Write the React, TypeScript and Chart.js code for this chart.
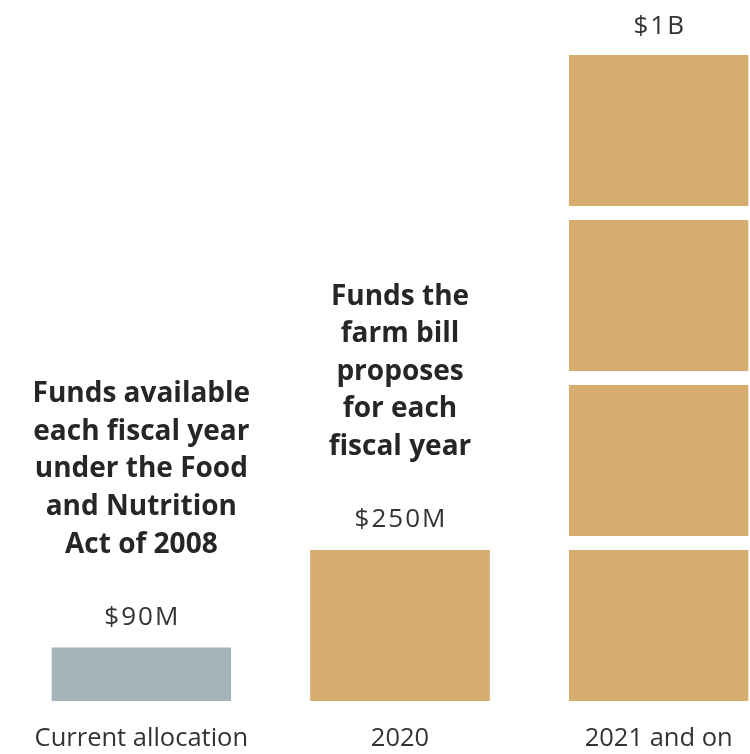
import React, { useEffect, useRef } from "react";
import { Chart, registerables } from "chart.js";

Chart.register(...registerables);

const categories = ["Current allocation", "2020", "2021 and on"];
// current allocation (millions of dollars)
const currentValues = [90, null, null];
// proposed funding shown as stacked $250M blocks
const block1 = [null, 250, 250];
const block2 = [null, null, 250];
const block3 = [null, null, 250];
const block4 = [null, null, 250];
const valueLabels = ["$90M", "$250M", "$1B"];
const notes: string[][] = [
  ["Funds available", "each fiscal year", "under the Food", "and Nutrition", "Act of 2008"],
  ["Funds the", "farm bill", "proposes", "for each", "fiscal year"],
  [],
];

const GOLD = "#D6AD6E";
const GRAY = "#A5B3BA";
const FONT = "'Open Sans', Lato, sans-serif";
const GAP = 14;

const labelPlugin = {
  id: "labels",
  afterDatasetsDraw(chart: any) {
    const { ctx, scales } = chart;
    const x = scales.x;
    const y = scales.y;
    ctx.save();
    ctx.textAlign = "center";
    ctx.textBaseline = "middle";
    categories.forEach((_, i) => {
      let total = 0;
      chart.data.datasets.forEach((ds: any) => {
        const v = ds.data[i];
        if (typeof v === "number") total += v;
      });
      const border = i === 0 ? 6 : GAP;
      const fillTop = y.getPixelForValue(total) + border;
      const cx = x.getPixelForValue(i);
      const labelY = fillTop - (i === 2 ? 28 : 30);
      ctx.fillStyle = "#333333";
      ctx.font = `400 26px ${FONT}`;
      try {
        (ctx as any).letterSpacing = "2px";
      } catch (e) {}
      ctx.fillText(valueLabels[i], cx + 1, labelY);
      try {
        (ctx as any).letterSpacing = "0px";
      } catch (e) {}
      const lines = notes[i];
      ctx.fillStyle = "#262626";
      ctx.font = `700 28px ${FONT}`;
      const lh = 37.6;
      lines.forEach((ln, k) => {
        const ly = labelY - 73 - (lines.length - 1 - k) * lh;
        ctx.fillText(ln, cx, ly);
      });
    });
    ctx.restore();
  },
};

export default function App() {
  const ref = useRef<HTMLCanvasElement | null>(null);
  useEffect(() => {
    if (!ref.current) return;
    const mk = (label: string, data: any[], color: string, top: number) => ({
      label,
      data,
      backgroundColor: color,
      borderColor: "#ffffff",
      borderWidth: { top, bottom: 0, left: 0, right: 0 },
      borderSkipped: false,
      barPercentage: 0.695,
      categoryPercentage: 1,
    });
    const chart = new Chart(ref.current, {
      type: "bar",
      data: {
        labels: categories,
        datasets: [
          mk("Current", currentValues, GRAY, 6),
          mk("Block 1", block1, GOLD, GAP),
          mk("Block 2", block2, GOLD, GAP),
          mk("Block 3", block3, GOLD, GAP),
          mk("Block 4", block4, GOLD, GAP),
        ],
      },
      options: {
        responsive: false,
        animation: false,
        devicePixelRatio: 1,
        layout: { padding: { left: 12, right: 2, top: 8, bottom: 0 } },
        plugins: {
          legend: { display: false },
          tooltip: { enabled: false },
        },
        scales: {
          x: {
            stacked: true,
            grid: { display: false, drawTicks: false },
            border: { display: false },
            ticks: {
              color: "#333333",
              font: { family: FONT, size: 25.5 },
              padding: 22,
              maxRotation: 0,
            },
            afterFit(scale: any) {
              scale.height = 53;
            },
          },
          y: {
            stacked: true,
            display: false,
            min: 0,
            max: 1050,
          },
        },
      },
      plugins: [labelPlugin],
    });
    return () => chart.destroy();
  }, []);
  return (
    <div
      style={{
        position: "absolute",
        left: 0,
        top: 0,
        width: 750,
        height: 754,
        overflow: "hidden",
        background: "#ffffff",
      }}
    >
      <canvas ref={ref} width={790} height={754} style={{ display: "block" }} />
    </div>
  );
}
